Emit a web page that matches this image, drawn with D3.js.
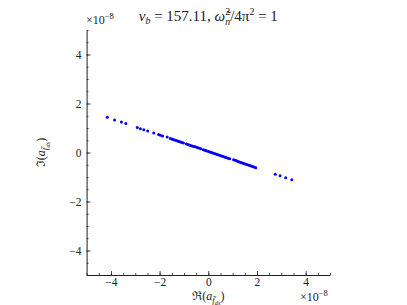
<!DOCTYPE html>
<html>
<head>
<meta charset="utf-8">
<script src="https://cdn.jsdelivr.net/npm/d3@7"></script>
<style>
  body { margin: 0; background: #fff; }
  svg text { font-family: "Liberation Serif", "DejaVu Serif", serif; fill: #222; }
</style>
</head>
<body>
<svg id="chart" width="407" height="305"></svg>
<script>
// values in units of 1e-8
const reVals = [-4.15, -3.85, -3.57, -3.39, -2.92, -2.79, -2.65, -2.49, -2.24, -2.04, -1.97, -1.88, -1.69,
  -1.56, -1.50, -1.44, -1.38, -1.32, -1.26, -1.20, -1.14, -1.08, -1.02, -0.90, -0.84, -0.78, -0.72,
  -0.66, -0.60, -0.54, -0.48, -0.42, -0.36, -0.30, -0.20, -0.14, -0.08, -0.02, 0.04, 0.10, 0.16,
  0.22, 0.28, 0.34, 0.40, 0.46, 0.52, 0.58, 0.64, 0.70, 0.76, 0.82, 0.88, 1.04, 1.10, 1.16, 1.22,
  1.28, 1.34, 1.40, 1.46, 1.52, 1.58, 1.64, 1.70, 1.76, 1.82, 1.88, 1.95,
  2.75, 2.95, 3.18, 3.43];
const imVals = [1.44, 1.33, 1.25, 1.18, 1.02, 0.97, 0.93, 0.88, 0.80, 0.73, 0.70, 0.67, 0.63,
  0.57, 0.55, 0.53, 0.51, 0.49, 0.47, 0.45, 0.43, 0.41, 0.39, 0.35, 0.33, 0.31, 0.29,
  0.27, 0.25, 0.23, 0.21, 0.19, 0.17, 0.15, 0.11, 0.09, 0.07, 0.05, 0.03, 0.01, -0.01,
  -0.03, -0.05, -0.07, -0.09, -0.11, -0.13, -0.15, -0.17, -0.19, -0.21, -0.23, -0.25, -0.30, -0.32, -0.34, -0.37,
  -0.39, -0.41, -0.43, -0.45, -0.47, -0.49, -0.51, -0.53, -0.55, -0.57, -0.59, -0.62,
  -0.89, -0.95, -1.03, -1.11];

const majorTicks = [-4, -2, 0, 2, 4];
const minorTicks = d3.range(-5, 5.01, 0.5);

const svg = d3.select("#chart");
const margin = { top: 30, right: 77, bottom: 30, left: 86 };
const width = 407, height = 305;

const x = d3.scaleLinear().domain([-5, 5]).range([margin.left + 0.6, width - margin.right]);
const y = d3.scaleLinear().domain([-5, 5]).range([height - margin.bottom, margin.top]);

const fmt = d => d < 0 ? "\u2212" + Math.abs(d) : String(d);

// minor ticks
svg.append("g")
  .attr("transform", `translate(0,${y(-5)})`)
  .call(d3.axisBottom(x).tickValues(minorTicks).tickSize(-2).tickSizeOuter(0).tickFormat(""))
  .call(g => g.select(".domain").remove());
svg.append("g")
  .attr("transform", `translate(${x(-5)},0)`)
  .call(d3.axisLeft(y).tickValues(minorTicks).tickSize(-2).tickSizeOuter(0).tickFormat(""))
  .call(g => g.select(".domain").remove());

// major ticks
const xAxis = svg.append("g")
  .attr("transform", `translate(0,${y(-5)})`)
  .call(d3.axisBottom(x).tickValues(majorTicks).tickSize(-4).tickSizeOuter(0).tickPadding(3).tickFormat(fmt));
const yAxis = svg.append("g")
  .attr("transform", `translate(${x(-5)},0)`)
  .call(d3.axisLeft(y).tickValues(majorTicks).tickSize(-4).tickSizeOuter(0).tickPadding(5).tickFormat(fmt));

[xAxis, yAxis].forEach(a => {
  a.select(".domain").attr("stroke", "#222").attr("stroke-width", 1);
  a.selectAll("text").attr("font-size", 11.5).attr("fill", "#333");
});
svg.selectAll(".tick line").attr("stroke", "#222").attr("stroke-width", 0.8);

// points
svg.append("g")
  .selectAll("circle")
  .data(reVals.map((r, i) => [r, imVals[i]]))
  .enter()
  .append("circle")
  .attr("cx", d => x(d[0]))
  .attr("cy", d => y(d[1]))
  .attr("r", 1.5)
  .attr("fill", "#0000ff");

// title
const title = svg.append("text")
  .attr("x", x(0))
  .attr("y", 21)
  .attr("text-anchor", "middle")
  .attr("font-size", 15);
title.append("tspan").attr("font-style", "italic").text("v");
title.append("tspan").attr("font-style", "italic").attr("font-size", 10).attr("dy", 3).text("b");
title.append("tspan").attr("dy", -3).text(" = 157.11,  ");
title.append("tspan").attr("font-style", "italic").text("\u03c9\u0303");
title.append("tspan").attr("font-size", 10).attr("dy", -6).text("2");
title.append("tspan").attr("font-style", "italic").attr("font-size", 10).attr("dx", -5).attr("dy", 10).text("n");
title.append("tspan").attr("dy", -4).text("/4\u03c0");
title.append("tspan").attr("font-size", 10).attr("dy", -6).text("2");
title.append("tspan").attr("dy", 6).text(" = 1");

// offset labels
function offsetLabel(xp, yp) {
  const t = svg.append("text").attr("x", xp).attr("y", yp).attr("font-size", 12).attr("fill", "#333");
  t.append("tspan").text("\u00d710");
  t.append("tspan").attr("font-size", 8.5).attr("dy", -5).text("\u22128");
}
offsetLabel(86, 24);
offsetLabel(300, 301);

// axis labels
function complexLabel(sel, sym) {
  sel.append("tspan").text(sym + "(");
  sel.append("tspan").attr("font-style", "italic").text("a");
  sel.append("tspan").attr("font-style", "italic").attr("font-size", 9).attr("dy", 3).text("f\u0304");
  sel.append("tspan").attr("font-style", "italic").attr("font-size", 6.5).attr("dy", 2).text("ds");
  sel.append("tspan").attr("dy", -5).text(")");
}
const xl = svg.append("text")
  .attr("x", x(0))
  .attr("y", 300)
  .attr("text-anchor", "middle")
  .attr("font-size", 12)
  .attr("fill", "#333");
complexLabel(xl, "\u211c");

const yl = svg.append("text")
  .attr("transform", `translate(45,${y(0)}) rotate(-90)`)
  .attr("text-anchor", "middle")
  .attr("font-size", 12)
  .attr("fill", "#333");
complexLabel(yl, "\u2111");
</script>
</body>
</html>
